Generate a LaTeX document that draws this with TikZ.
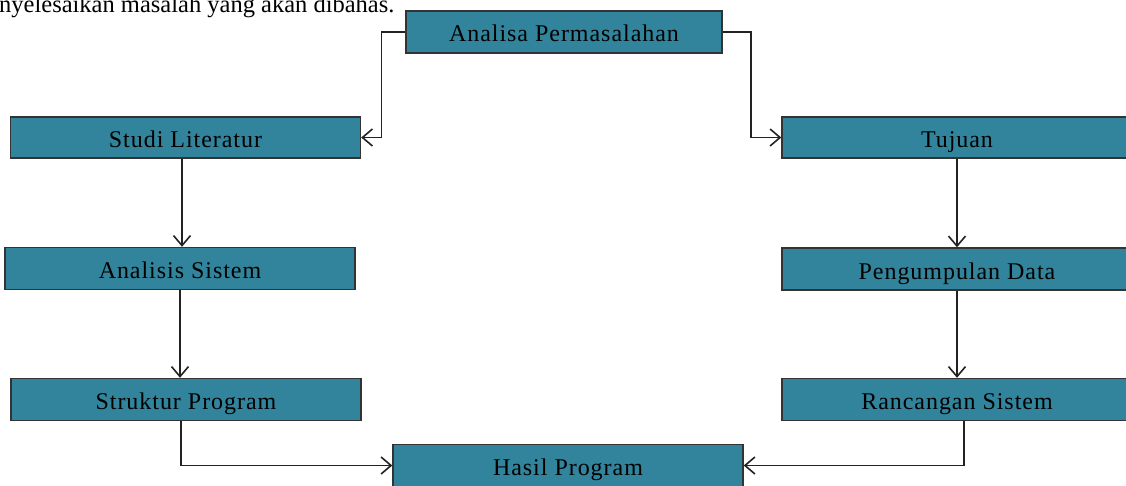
\documentclass[tikz,border=0pt]{standalone}
\usepackage{fontspec}
\setmainfont{Liberation Serif}
\newfontfamily\boxfont[LetterSpace=4]{Liberation Serif}
\usetikzlibrary{arrows.meta}
\definecolor{boxfill}{HTML}{31849B}
\definecolor{boxline}{HTML}{333333}
\definecolor{conline}{HTML}{222222}
\tikzset{
  flowbox/.style={draw=boxline, line width=1.4pt, fill=boxfill, rectangle,
    minimum width=350pt, minimum height=42pt, inner sep=0pt,
    text height=20pt, text depth=0pt, font=\boxfont\fontsize{24}{26}\selectfont},
  conn/.style={draw=conline, line width=1.6pt,
    -{Straight Barb[length=10pt,width=17pt,line width=1.6pt]}}
}
\begin{document}
\begin{tikzpicture}[x=1pt,y=-1pt]
\useasboundingbox (0,0) rectangle (1126,486);
\clip (0,0) rectangle (1126,486);
\fill[white] (0,0) rectangle (1126,486);
\node[anchor=base west, inner sep=0pt, font=\fontsize{24.5}{26}\selectfont] (intro) at (-1,13) {nyelesaikan masalah yang akan dibahas.};
\node[flowbox, minimum width=316pt] (analisa) at (564,32) {Analisa Permasalahan};
\node[flowbox, minimum height=41pt] (studi) at (185.5,137.5) {Studi Literatur};
\node[flowbox] (analisis) at (180,268.5) {Analisis Sistem};
\node[flowbox] (struktur) at (186,399.5) {Struktur Program};
\node[flowbox] (hasil) at (568,465.5) {Hasil Program};
\node[flowbox, minimum height=41pt] (tujuan) at (957,137.5) {Tujuan};
\node[flowbox] (pengumpulan) at (957,269) {Pengumpulan Data};
\node[flowbox] (rancangan) at (957,399.5) {Rancangan Sistem};
\draw[conn] (analisa.west) -- ++(-24,0) |- (studi.east);
\draw[conn] (analisa.east) -- ++(28,0) |- (tujuan.west);
\draw[conn] ([xshift=-3.5pt]studi.south) -- ([xshift=-3.5pt]studi.south |- analisis.north);
\draw[conn] (analisis.south) -- (analisis.south |- struktur.north);
\draw[conn] (tujuan.south) -- (pengumpulan.north);
\draw[conn] (pengumpulan.south) -- (rancangan.north);
\draw[conn] ([xshift=-5pt]struktur.south) |- (hasil.west);
\draw[conn] ([xshift=7pt]rancangan.south) |- (hasil.east);
\end{tikzpicture}
\end{document}
